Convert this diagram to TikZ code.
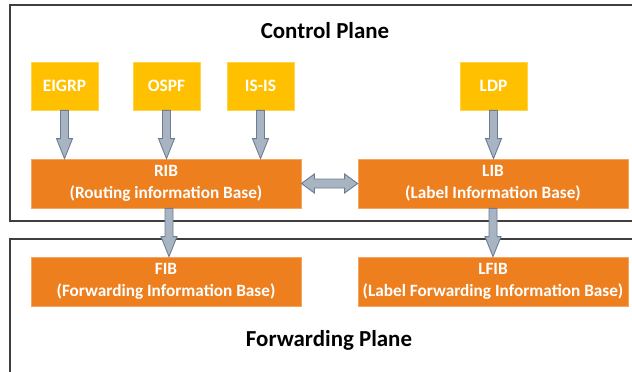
\documentclass[tikz,border=0pt]{standalone}
\usepackage{fontspec}
\setmainfont{Carlito}
\usetikzlibrary{calc}
\definecolor{protoY}{HTML}{FFC000}
\definecolor{baseO}{HTML}{EE7F1F}
\definecolor{arrF}{HTML}{A9B4C2}
\definecolor{arrD}{HTML}{6B7D94}
\definecolor{frameC}{HTML}{3F3F3F}
\tikzset{
  proto/.style={rectangle, fill=protoY, draw=protoY!70!white, line width=0.8bp, minimum width=67bp, minimum height=48bp, inner sep=0pt, text=white, font=\bfseries\fontsize{17.5}{20}\selectfont},
  basebox/.style={rectangle, fill=baseO, draw=baseO!70!white, line width=0.8bp, minimum width=270bp, minimum height=49bp, inner sep=0pt, text=white, align=center, font=\bfseries\fontsize{17.3}{22}\selectfont},
  blk/.style={fill=arrF, draw=arrD, line width=0.9bp, line join=miter},
  frame/.style={draw=frameC, line width=1.3bp},
  title/.style={font=\bfseries\fontsize{23}{25}\selectfont, text=black, inner sep=0pt}
}
% #1 source node, #2 target node, #3 horizontal offset
\newcommand\dblock[3][0]{%
  \coordinate (s) at ($(#2.south)+(#1,0)$);
  \coordinate (e) at (#3.north -| s);
  \draw[blk] ($(s)+(-4,0)$) -- ($(e)+(-4,-20)$) -- ($(e)+(-8,-20)$) -- (e) -- ($(e)+(8,-20)$) -- ($(e)+(4,-20)$) -- ($(s)+(4,0)$) -- cycle;}
\begin{document}
\begin{tikzpicture}[x=1bp,y=-1bp]
\clip (0,0) rectangle (632,371);
\fill[white] (0,0) rectangle (632,371);
% planes
\draw[frame] (10,5) rectangle (660,221);
\draw[frame] (10,239) rectangle (660,400);
\node[title] (cp) at (325,31) {Control Plane};
\node[title] (fp) at (329,340) {Forwarding Plane};
% protocols
\node[proto] (eigrp) at (64.5,86) {EIGRP};
\node[proto] (ospf) at (166.5,86) {OSPF};
\node[proto] (isis) at (260.5,86) {IS-IS};
\node[proto] (ldp) at (493.5,86) {LDP};
% bases
\node[basebox] (rib) at (166,183.5) {RIB\\(Routing information Base)};
\node[basebox] (lib) at (493,183.5) {LIB\\(Label Information Base)};
\node[basebox] (fib) at (166,281.5) {FIB\\(Forwarding Information Base)};
\node[basebox] (lfib) at (493,281.5) {LFIB\\(Label Forwarding Information Base)};
% arrows
\dblock{eigrp}{rib}
\dblock{ospf}{rib}
\dblock{isis}{rib}
\dblock{ldp}{lib}
\dblock[3]{rib}{fib}
\dblock{lib}{lfib}
\coordinate (a) at (rib.east);
\coordinate (b) at (lib.west);
\draw[blk] (a) -- ($(a)+(13,-9.5)$) -- ($(a)+(13,-4.5)$) -- ($(b)+(-13,-4.5)$) -- ($(b)+(-13,-9.5)$) -- (b) -- ($(b)+(-13,9.5)$) -- ($(b)+(-13,4.5)$) -- ($(a)+(13,4.5)$) -- ($(a)+(13,9.5)$) -- cycle;
\end{tikzpicture}
\end{document}
